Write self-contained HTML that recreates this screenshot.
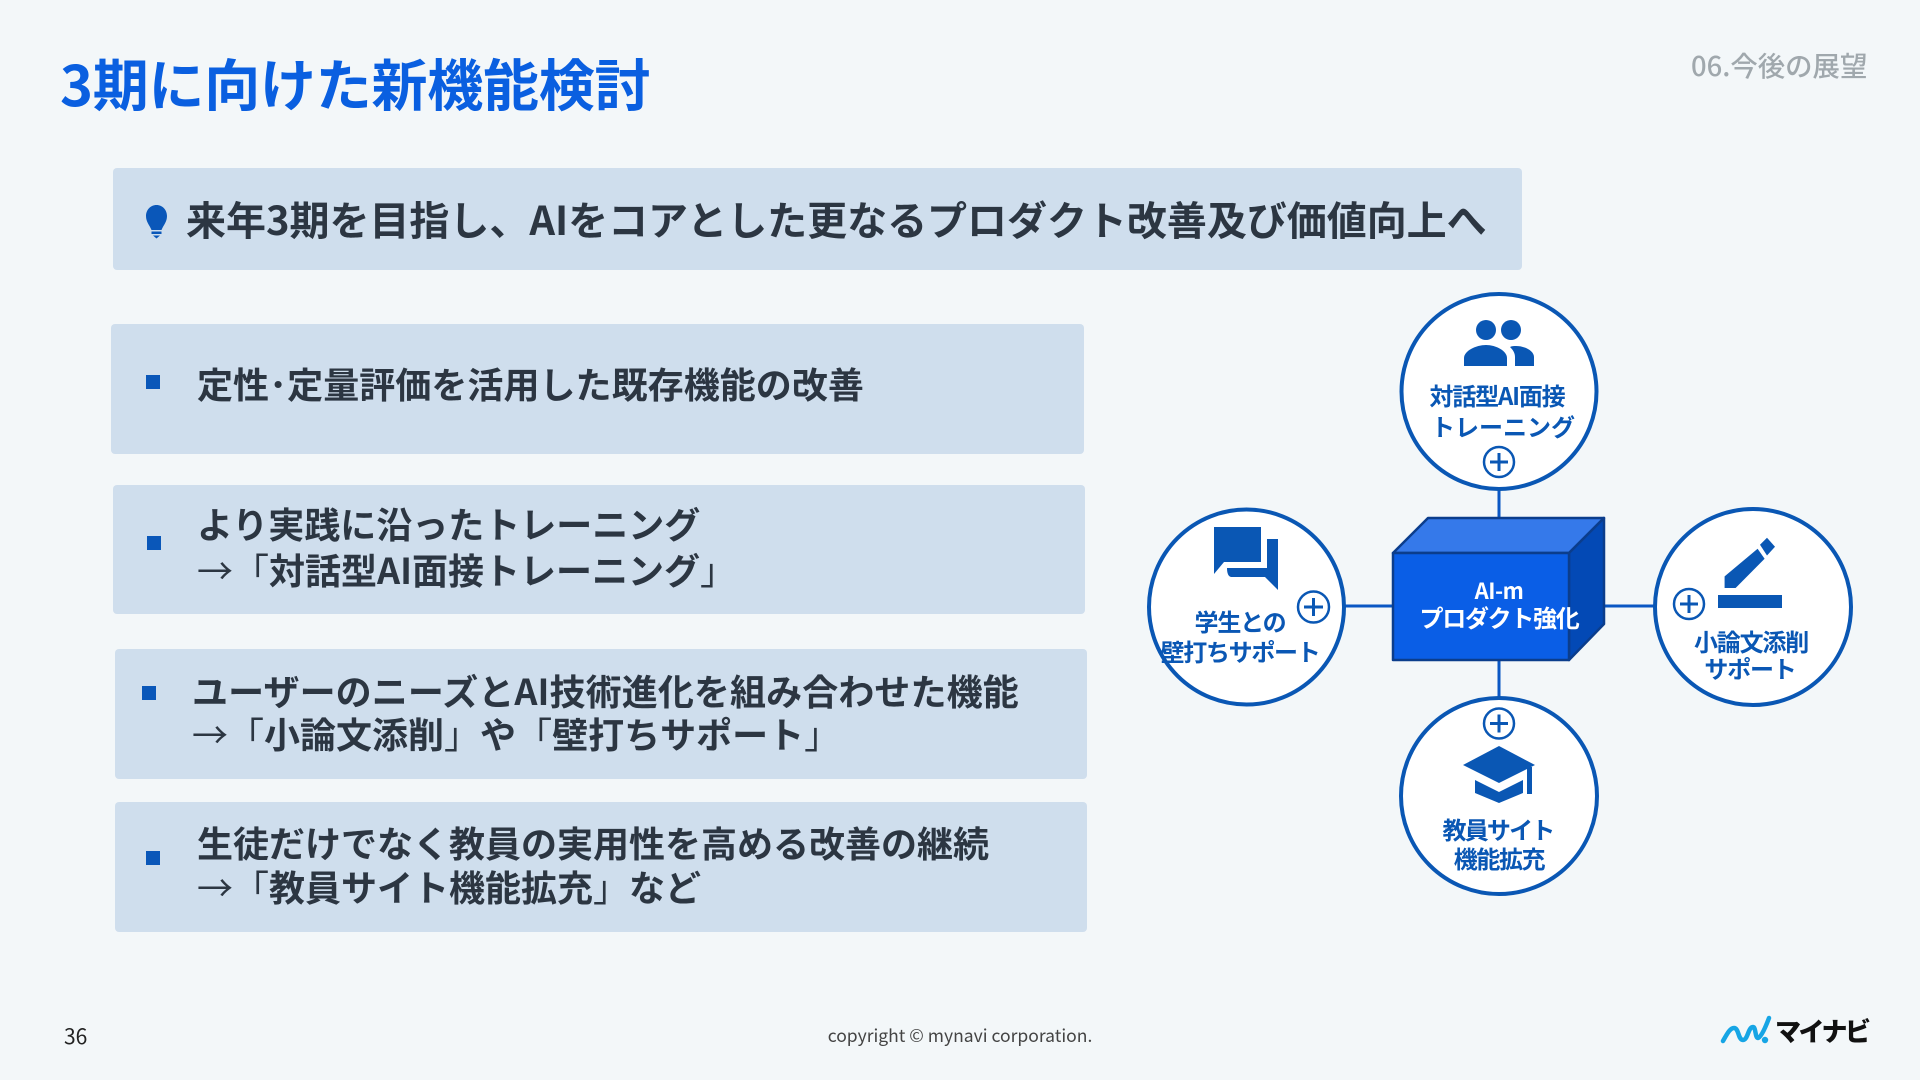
<!DOCTYPE html>
<html lang="ja"><head><meta charset="utf-8">
<style>
html,body{margin:0;padding:0;}
body{width:1920px;height:1080px;position:relative;overflow:hidden;background:#f3f7f9;font-family:"Liberation Sans","Noto Sans CJK JP",sans-serif;}
.b{position:absolute;background:#cfdeed;border-radius:4px;}
.s{position:absolute;width:14px;height:14px;background:#0a57b9;}
.t{position:absolute;white-space:nowrap;font-family:"Noto Sans CJK JP",sans-serif;font-weight:700;color:#2c3642;font-size:36px;line-height:50px;}
.t span{font-weight:400;}
.c{font-family:"Noto Sans CJK JP",sans-serif;font-weight:700;fill:#0a57b4;font-size:24px;text-anchor:middle;letter-spacing:-1.2px;}
svg{position:absolute;left:0;top:0;}
</style></head><body>
<div class="t" style="left:60px;top:48px;font-size:56px;line-height:70px;letter-spacing:-0.25px;color:#0a5fe0;">3期に向けた新機能検討</div>
<div class="t" style="left:1691px;top:44px;font-size:27.400px;line-height:40px;font-weight:500;color:#a0a8ad;">06.今後の展望</div>

<div class="b" style="left:113px;top:168px;width:1409px;height:102px;"></div>
<div class="t" style="left:186px;top:188px;font-size:40px;line-height:60px;letter-spacing:-0.03px;">来年3期を目指し、AIをコアとした更なるプロダクト改善及び価値向上へ</div>

<div class="b" style="left:111px;top:324px;width:973px;height:130px;"></div>
<div class="b" style="left:113px;top:485px;width:972px;height:129px;"></div>
<div class="b" style="left:115px;top:649px;width:972px;height:130px;"></div>
<div class="b" style="left:115px;top:802px;width:972px;height:130px;"></div>

<div class="s" style="left:146px;top:375px;"></div>
<div class="s" style="left:147px;top:536px;"></div>
<div class="s" style="left:142px;top:686px;"></div>
<div class="s" style="left:146px;top:851px;"></div>

<div class="t" style="left:197px;top:358px;letter-spacing:0.05px;">定性･定量評価を活用した既存機能の改善</div>
<div class="t" style="left:197px;top:498px;">より実践に沿ったトレーニング</div>
<div class="t" style="left:197px;top:544px;"><span>→「</span>対話型AI面接トレーニング<span>」</span></div>
<div class="t" style="left:192px;top:665px;letter-spacing:0.1px;">ユーザーのニーズとAI技術進化を組み合わせた機能</div>
<div class="t" style="left:192px;top:708px;"><span>→「</span>小論文添削<span>」</span>や<span>「</span>壁打ちサポート<span>」</span></div>
<div class="t" style="left:197px;top:817px;">生徒だけでなく教員の実用性を高める改善の継続</div>
<div class="t" style="left:197px;top:861px;"><span>→「</span>教員サイト機能拡充<span>」</span>など</div>

<svg width="1920" height="1080" viewBox="0 0 1920 1080">
  <!-- lightbulb -->
  <path d="M156.500 205c-6 0-10.500 5-10.500 11 0 6 3.500 9 5.500 14h10c2-5 5.500-8 5.500-14 0-6-4.500-11-10.500-11z" fill="#0a57b9"/>
  <path d="M151.500 231.500h10v2.500h-10zM153 235.500h7l-3.500 3z" fill="#0a57b9"/>

  <!-- connectors -->
  <g stroke="#0a57c4" stroke-width="3" fill="none">
    <path d="M1499 489V518"/><path d="M1499 660V700"/>
    <path d="M1345 606H1393"/><path d="M1604 606H1655"/>
  </g>

  <!-- cube -->
  <g stroke="#0b3d8c" stroke-width="2.500" stroke-linejoin="round">
    <path d="M1393 553L1428 518H1604L1569 553Z" fill="#3579ea"/>
    <path d="M1569 553L1604 518V624L1569 660Z" fill="#0349b5"/>
    <rect x="1393" y="553" width="176" height="107" fill="#0a5ee6"/>
  </g>
  <text x="1499" y="599" font-size="22" fill="#fff" text-anchor="middle" letter-spacing="-0.500" style="font-family:'Noto Sans CJK JP',sans-serif;font-weight:700">AI-m</text>
  <text x="1499" y="627" font-size="24" fill="#fff" text-anchor="middle" letter-spacing="-1.300" style="font-family:'Noto Sans CJK JP',sans-serif;font-weight:700">プロダクト強化</text>

  <!-- circles -->
  <g fill="#fff" stroke="#0a57b4" stroke-width="4">
    <circle cx="1499" cy="391.500" r="97.500"/>
    <circle cx="1246.500" cy="607" r="97.500"/>
    <circle cx="1753" cy="607" r="98"/>
    <circle cx="1499" cy="796" r="98"/>
  </g>

  <!-- labels -->
  <text class="c" x="1497" y="405">対話型AI面接</text>
  <text class="c" x="1503" y="436" style="letter-spacing:0">トレーニング</text>
  <text class="c" x="1240" y="631">学生との</text>
  <text class="c" x="1240" y="661" style="letter-spacing:-1.300px">壁打ちサポート</text>
  <text class="c" x="1751" y="651">小論文添削</text>
  <text class="c" x="1750" y="678">サポート</text>
  <text class="c" x="1498" y="839" style="letter-spacing:-1.800px">教員サイト</text>
  <text class="c" x="1499" y="868" style="letter-spacing:-1.400px">機能拡充</text>

  <!-- plus badges -->
  <g fill="#fff" stroke="#0a57b4" stroke-width="2.500">
    <circle cx="1499" cy="462" r="15"/>
    <circle cx="1313.500" cy="607" r="15.500"/>
    <circle cx="1689" cy="604" r="15"/>
    <circle cx="1499" cy="723.500" r="15"/>
    <path d="M1490 462h18M1499 453v18M1304 607h19M1313.500 598v18M1680 604h18M1689 595v18M1490 723.500h18M1499 714.500v18" fill="none" stroke-width="3"/>
  </g>

  <!-- icons -->
  <g fill="#0a57b4">
    <!-- people -->
    <circle cx="1486" cy="330" r="10"/><circle cx="1511" cy="330" r="10"/>
    <path d="M1464 366v-8c0-7 12-13 22-13s21 6 21 13v8z"/>
    <path d="M1515 366v-9c0-4-2-7-5-10 2-1 4-1 6-1 9 0 18 5 18 11v9z"/>
    <!-- chat -->
    <path d="M1214 527h47v35h-37l-10 12z"/>
    <path d="M1267 539h11v51l-13-13h-34q-4-1-4-9h40z"/>
    <!-- pencil -->
    <path d="M1724.600 588v-11.600l33-27.600 7 10-29 29.200z"/>
    <path d="M1760 544.800l7-7.100 8 9.100-8 8.700z"/>
    <rect x="1718" y="595" width="64" height="13"/>
    <!-- cap -->
    <path d="M1499 746l36 19-36 18-36-18z"/>
    <path d="M1475 780l24 12 24-12v13l-24 10-24-10z"/>
    <rect x="1527" y="767" width="5" height="27"/>
  </g>

  <!-- logo -->
  <path d="M1723 1041c4-7 7-13 11-13 5 0 4 12 9 12 5 0 5-13 10-13 3 0 2 11 5 11 3 0 8-12 11-20" fill="none" stroke="#16a5e5" stroke-width="4.500" stroke-linecap="round" stroke-linejoin="round"/>
  <circle cx="1765" cy="1040" r="3.200" fill="#16a5e5"/>
</svg>

<div class="t" style="left:1775px;top:1013px;font-size:26px;line-height:36px;font-weight:900;color:#111;letter-spacing:-2.500px;">マイナビ</div>
<div class="t" style="left:64px;top:1022px;font-size:21px;line-height:28px;font-weight:400;color:#222;">36</div>
<div class="t" style="left:760px;width:400px;text-align:center;top:1024px;font-size:17.500px;line-height:24px;font-weight:400;color:#444;">copyright © mynavi corporation.</div>
</body></html>
